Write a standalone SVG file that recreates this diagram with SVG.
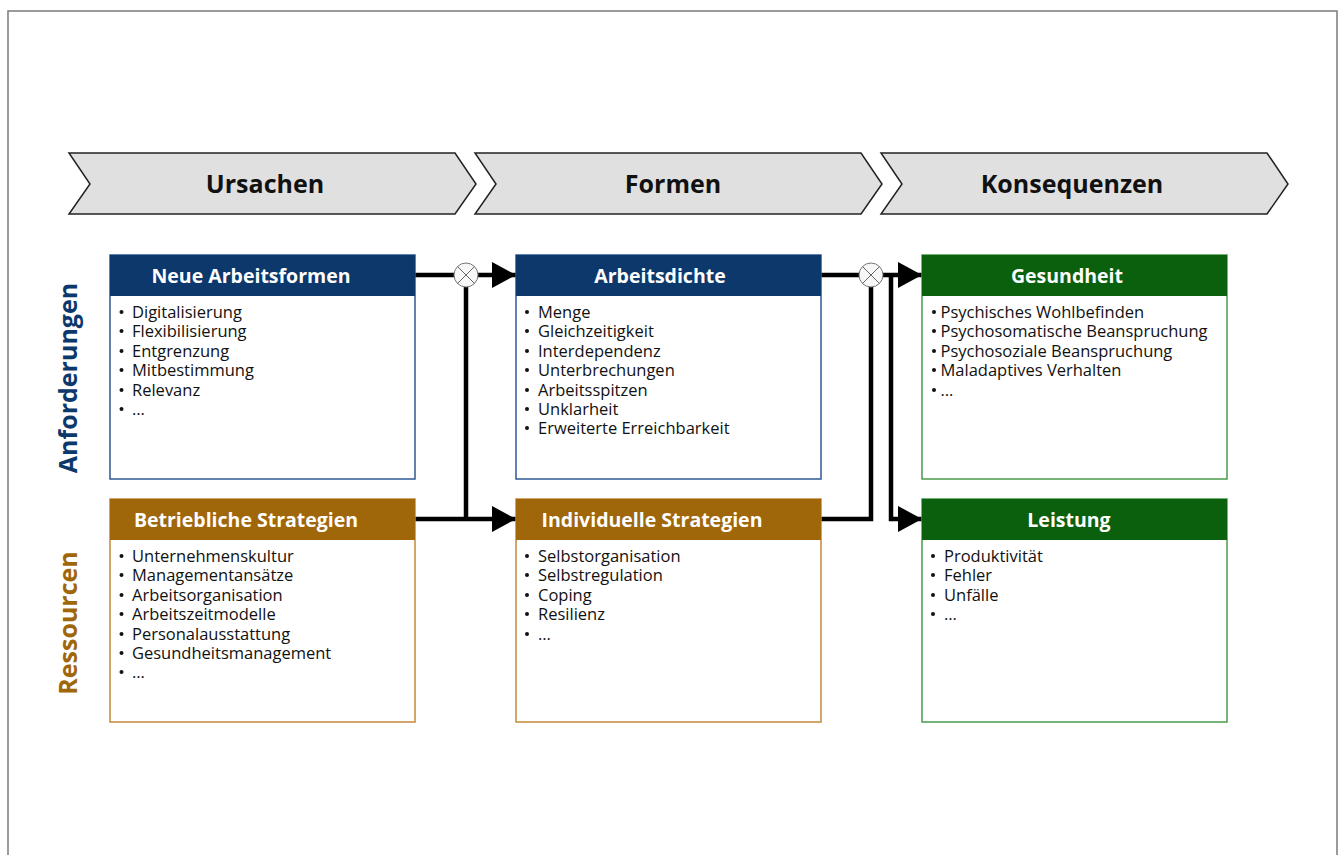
<svg xmlns="http://www.w3.org/2000/svg" width="1340" height="855" viewBox="0 0 1340 855">
<style>
.frame{fill:#fff;stroke:#7a7a7a;stroke-width:1.5}
.chev{fill:#e0e0e0;stroke:#222;stroke-width:1.5}
.chevt{font-family:"Open Sans","Noto Sans",sans-serif;font-weight:bold;font-size:25px;fill:#111;text-anchor:middle}
.side{font-family:"Open Sans","Noto Sans",sans-serif;font-weight:bold;font-size:25px;text-anchor:middle}
.ht{font-family:"Open Sans","Noto Sans",sans-serif;font-weight:bold;font-size:19.5px;fill:#fff;text-anchor:middle}
.li{font-family:"Open Sans","Noto Sans",sans-serif;font-size:16.5px;fill:#111}
.bu{fill:#111}
.bn{fill:#fff;stroke:#2e5a96;stroke-width:1.5}
.bb{fill:#fff;stroke:#c4893b;stroke-width:1.5}
.bg{fill:#fff;stroke:#4a9a4a;stroke-width:1.5}
.hn{fill:#0d386c}
.hb{fill:#a0660a}
.hg{fill:#0b600e}
.ln{fill:none;stroke:#000;stroke-width:4.5}
.circ{fill:#f7f7f7;stroke:#777;stroke-width:1}
.cx{stroke:#666;stroke-width:1}
</style>
<defs>
<marker id="ah" markerWidth="24" markerHeight="26" refX="24" refY="13" orient="auto" markerUnits="userSpaceOnUse">
<path d="M0,0 L24,13 L0,26 Z" fill="#000"/>
</marker>
<circle id="dot" class="bu" cx="0" cy="0" r="2"/>
</defs>
<rect class="frame" x="8" y="11" width="1329" height="860"/>

<g id="phases">
<polygon class="chev" points="69,153 455,153 476,184 455,214 69,214 90,184"/>
<text class="chevt" x="265" y="193">Ursachen</text>
<polygon class="chev" points="475,153 861,153 882,184 861,214 475,214 496,184"/>
<text class="chevt" x="673" y="193">Formen</text>
<polygon class="chev" points="881,153 1267,153 1288,184 1267,214 881,214 902,184"/>
<text class="chevt" x="1072" y="193">Konsequenzen</text>
</g>

<g id="sidelabels">
<text class="side" transform="translate(77,378) rotate(-90)" fill="#0d386c">Anforderungen</text>
<text class="side" transform="translate(77,623) rotate(-90)" fill="#a0660a">Ressourcen</text>
</g>

<g id="connectors">
<line class="ln" x1="415" y1="275" x2="454" y2="275"/>
<line class="ln" x1="478" y1="275" x2="516" y2="275" marker-end="url(#ah)"/>
<line class="ln" x1="466" y1="287" x2="466" y2="519"/>
<line class="ln" x1="415" y1="519" x2="516" y2="519" marker-end="url(#ah)"/>
<g>
<circle class="circ" cx="466" cy="275" r="12"/>
<line class="cx" x1="457.5" y1="266.5" x2="474.5" y2="283.5"/>
<line class="cx" x1="474.5" y1="266.5" x2="457.5" y2="283.5"/>
</g>
<line class="ln" x1="821" y1="275" x2="859" y2="275"/>
<line class="ln" x1="883" y1="275" x2="922" y2="275" marker-end="url(#ah)"/>
<polyline class="ln" points="871,287 871,519 821,519"/>
<polyline class="ln" points="891,273 891,519 922,519" marker-end="url(#ah)"/>
<g>
<circle class="circ" cx="871" cy="275" r="12"/>
<line class="cx" x1="862.5" y1="266.5" x2="879.5" y2="283.5"/>
<line class="cx" x1="879.5" y1="266.5" x2="862.5" y2="283.5"/>
</g>
</g>

<g id="neue-arbeitsformen">
<rect class="bn" x="110" y="255" width="305" height="224"/>
<rect class="hn" x="110" y="255" width="305" height="41"/>
<text class="ht" x="251" y="283">Neue Arbeitsformen</text>
<use href="#dot" x="121.5" y="312"/><use href="#dot" x="121.5" y="331"/><use href="#dot" x="121.5" y="351"/><use href="#dot" x="121.5" y="370"/><use href="#dot" x="121.5" y="390"/><use href="#dot" x="121.5" y="409"/>
<text class="li" x="132" y="318">Digitalisierung</text>
<text class="li" x="132" y="337">Flexibilisierung</text>
<text class="li" x="132" y="357">Entgrenzung</text>
<text class="li" x="132" y="376">Mitbestimmung</text>
<text class="li" x="132" y="396">Relevanz</text>
<text class="li" x="132" y="415">…</text>
</g>

<g id="arbeitsdichte">
<rect class="bn" x="516" y="255" width="305" height="224"/>
<rect class="hn" x="516" y="255" width="305" height="41"/>
<text class="ht" x="660" y="283">Arbeitsdichte</text>
<use href="#dot" x="527" y="312"/><use href="#dot" x="527" y="331"/><use href="#dot" x="527" y="351"/><use href="#dot" x="527" y="370"/><use href="#dot" x="527" y="390"/><use href="#dot" x="527" y="409"/><use href="#dot" x="527" y="428"/>
<text class="li" x="538" y="318">Menge</text>
<text class="li" x="538" y="337">Gleichzeitigkeit</text>
<text class="li" x="538" y="357">Interdependenz</text>
<text class="li" x="538" y="376">Unterbrechungen</text>
<text class="li" x="538" y="396">Arbeitsspitzen</text>
<text class="li" x="538" y="415">Unklarheit</text>
<text class="li" x="538" y="434">Erweiterte Erreichbarkeit</text>
</g>

<g id="gesundheit">
<rect class="bg" x="922" y="255" width="305" height="224"/>
<rect class="hg" x="922" y="255" width="305" height="41"/>
<text class="ht" x="1067" y="283">Gesundheit</text>
<use href="#dot" x="934" y="312"/><use href="#dot" x="934" y="331"/><use href="#dot" x="934" y="351"/><use href="#dot" x="934" y="370"/><use href="#dot" x="934" y="390"/>
<text class="li" x="940.5" y="318">Psychisches Wohlbefinden</text>
<text class="li" x="940.5" y="337">Psychosomatische Beanspruchung</text>
<text class="li" x="940.5" y="357">Psychosoziale Beanspruchung</text>
<text class="li" x="940.5" y="376">Maladaptives Verhalten</text>
<text class="li" x="940.5" y="396">…</text>
</g>

<g id="betriebliche-strategien">
<rect class="bb" x="110" y="499" width="305" height="223"/>
<rect class="hb" x="110" y="499" width="305" height="41"/>
<text class="ht" x="246" y="527">Betriebliche Strategien</text>
<use href="#dot" x="121.5" y="556"/><use href="#dot" x="121.5" y="575"/><use href="#dot" x="121.5" y="595"/><use href="#dot" x="121.5" y="614"/><use href="#dot" x="121.5" y="634"/><use href="#dot" x="121.5" y="653"/><use href="#dot" x="121.5" y="672"/>
<text class="li" x="132" y="562">Unternehmenskultur</text>
<text class="li" x="132" y="581">Managementansätze</text>
<text class="li" x="132" y="601">Arbeitsorganisation</text>
<text class="li" x="132" y="620">Arbeitszeitmodelle</text>
<text class="li" x="132" y="640">Personalausstattung</text>
<text class="li" x="132" y="659">Gesundheitsmanagement</text>
<text class="li" x="132" y="678">…</text>
</g>

<g id="individuelle-strategien">
<rect class="bb" x="516" y="499" width="305" height="223"/>
<rect class="hb" x="516" y="499" width="305" height="41"/>
<text class="ht" x="652" y="527">Individuelle Strategien</text>
<use href="#dot" x="527" y="556"/><use href="#dot" x="527" y="575"/><use href="#dot" x="527" y="595"/><use href="#dot" x="527" y="614"/><use href="#dot" x="527" y="634"/>
<text class="li" x="538" y="562">Selbstorganisation</text>
<text class="li" x="538" y="581">Selbstregulation</text>
<text class="li" x="538" y="601">Coping</text>
<text class="li" x="538" y="620">Resilienz</text>
<text class="li" x="538" y="640">…</text>
</g>

<g id="leistung">
<rect class="bg" x="922" y="499" width="305" height="223"/>
<rect class="hg" x="922" y="499" width="305" height="41"/>
<text class="ht" x="1069" y="527">Leistung</text>
<use href="#dot" x="933" y="556"/><use href="#dot" x="933" y="575"/><use href="#dot" x="933" y="595"/><use href="#dot" x="933" y="614"/>
<text class="li" x="944" y="562">Produktivität</text>
<text class="li" x="944" y="581">Fehler</text>
<text class="li" x="944" y="601">Unfälle</text>
<text class="li" x="944" y="620">…</text>
</g>
</svg>
